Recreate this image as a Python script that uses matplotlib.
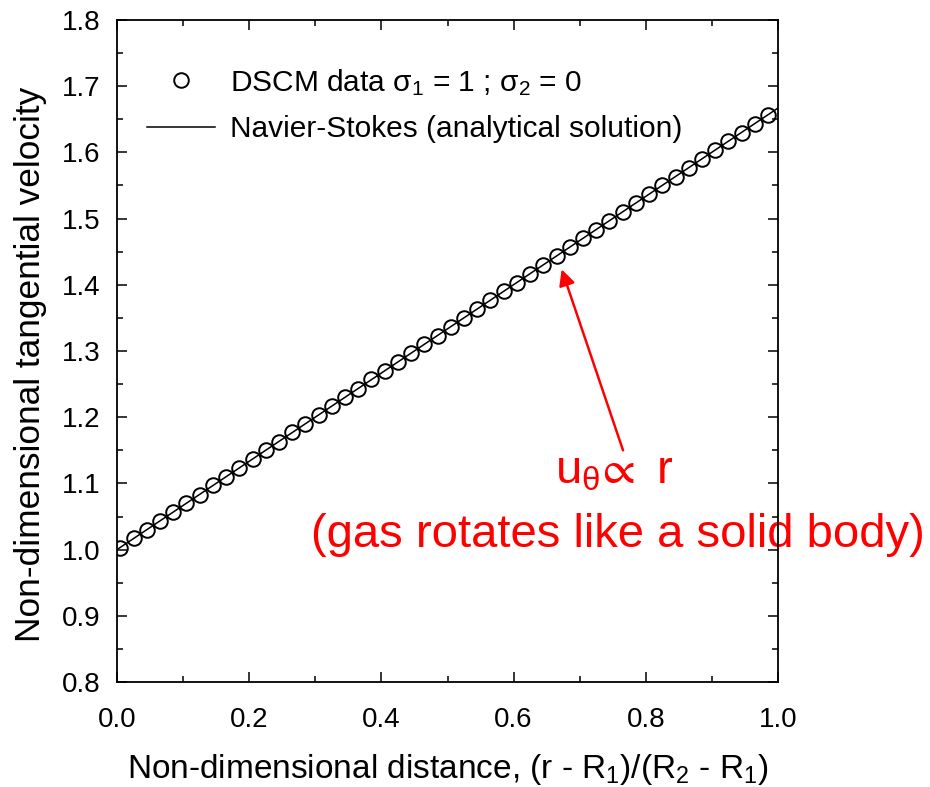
import matplotlib
matplotlib.use("Agg")
import matplotlib.pyplot as plt
from matplotlib.ticker import MultipleLocator

plt.rcParams["font.family"] = ["Liberation Sans", "DejaVu Sans"]
plt.rcParams["mathtext.fontset"] = "custom"
plt.rcParams["mathtext.rm"] = "Liberation Sans"
plt.rcParams["mathtext.it"] = "Liberation Sans"
plt.rcParams["mathtext.fallback"] = "stixsans"

# DSCM samples (sigma1 = 1, sigma2 = 0)
r_dscm = [0.005, 0.025, 0.045, 0.065, 0.085, 0.105, 0.125, 0.145, 0.165, 0.185,
          0.205, 0.225, 0.245, 0.265, 0.285, 0.305, 0.325, 0.345, 0.365, 0.385,
          0.405, 0.425, 0.445, 0.465, 0.485, 0.505, 0.525, 0.545, 0.565, 0.585,
          0.605, 0.625, 0.645, 0.665, 0.685, 0.705, 0.725, 0.745, 0.765, 0.785,
          0.805, 0.825, 0.845, 0.865, 0.885, 0.905, 0.925, 0.945, 0.965, 0.985]
u_dscm = [1.003, 1.017, 1.030, 1.043, 1.057, 1.070, 1.083, 1.097, 1.110, 1.123,
          1.137, 1.150, 1.163, 1.177, 1.190, 1.203, 1.217, 1.230, 1.243, 1.257,
          1.270, 1.283, 1.297, 1.310, 1.323, 1.337, 1.350, 1.363, 1.377, 1.390,
          1.403, 1.417, 1.430, 1.443, 1.457, 1.470, 1.483, 1.497, 1.510, 1.523,
          1.537, 1.550, 1.563, 1.577, 1.590, 1.603, 1.617, 1.630, 1.643, 1.657]

# Navier-Stokes analytical solution (solid body rotation, linear in r)
r_ns = [0.0, 1.0]
u_ns = [1.0, 1.667]

fig = plt.figure(figsize=(9.3, 7.87), dpi=100)
ax = fig.add_axes([0.1258, 0.1334, 0.7108, 0.8412])

ax.plot(r_ns, u_ns, color="black", linewidth=1.1, label="Navier-Stokes (analytical solution)", zorder=3)
ax.plot(r_dscm, u_dscm, linestyle="none", marker="o", markersize=10.5, markerfacecolor="none",
        markeredgecolor="black", markeredgewidth=1.4, label="DSCM data σ$_1$ = 1 ; σ$_2$ = 0", zorder=4)

ax.set_xlim(0, 1.0)
ax.set_ylim(0.8, 1.8)
ax.xaxis.set_major_locator(MultipleLocator(0.2))
ax.xaxis.set_minor_locator(MultipleLocator(0.1))
ax.yaxis.set_major_locator(MultipleLocator(0.1))
ax.yaxis.set_minor_locator(MultipleLocator(0.05))
ax.xaxis.set_major_formatter(lambda v, p: f"{v:.1f}")
ax.yaxis.set_major_formatter(lambda v, p: f"{v:.1f}")
ax.tick_params(which="both", direction="in", top=True, right=True, width=1.1, labelsize=20)
ax.tick_params(which="major", length=7.5)
ax.tick_params(which="minor", length=4)
ax.tick_params(axis="x", pad=18)
ax.tick_params(axis="y", pad=12)
for s in ax.spines.values():
    s.set_linewidth(1.3)

ax.set_xlabel("Non-dimensional distance, (r - R$_1$)/(R$_2$ - R$_1$)", fontsize=24, labelpad=14)
ax.set_ylabel("Non-dimensional tangential velocity", fontsize=25.4)
ax.yaxis.set_label_coords(-0.106, 0.48)

h, l = ax.get_legend_handles_labels()
ax.legend(h[::-1], l[::-1], loc="upper left", bbox_to_anchor=(0.004, 0.97), frameon=False,
          fontsize=21.5, numpoints=1, handlelength=2.3, handletextpad=0.5, labelspacing=0.6)

# annotation
ax.annotate("", xy=(0.6727, 1.4234), xytext=(0.7655, 1.150),
            arrowprops=dict(arrowstyle="-|>", color="red", lw=1.8, mutation_scale=24, shrinkA=0, shrinkB=0))
ax.text(0.752, 1.118, "u$_{\\mathrm{θ}}\\!\\propto$ r", color="red", fontsize=34, ha="center", va="center",
        clip_on=False, zorder=2)
ax.text(0.757, 1.022, "(gas rotates like a solid body)", color="red", fontsize=34, ha="center",
        va="center", clip_on=False, zorder=2)

fig.savefig("out.png", dpi=100, facecolor="white")
